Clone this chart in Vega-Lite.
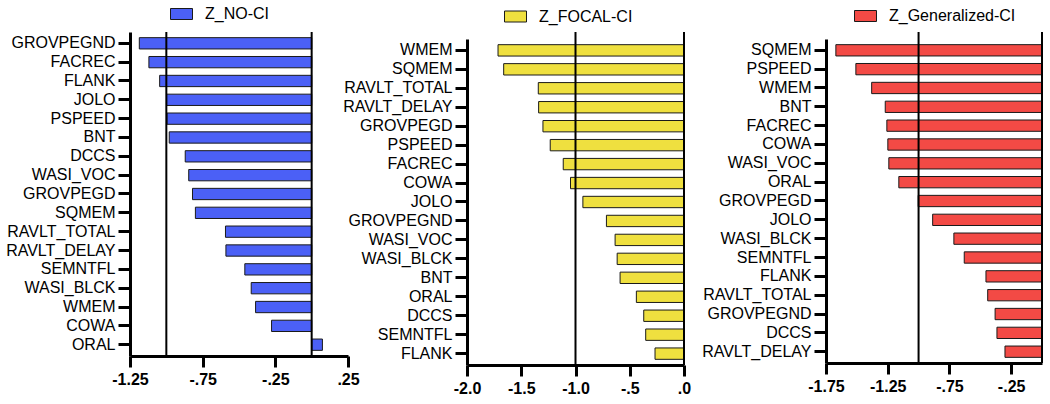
{
  "$schema": "https://vega.github.io/schema/vega-lite/v6.json",
  "padding": {"top": 2, "left": 0, "right": 0, "bottom": 0},
  "background": "white",
  "datasets": {
    "lines": [{"x": -1}, {"x": 0}],
    "noci": [
      {"test": "GROVPEGND", "z": -1.186, "series": "Z_NO-CI"},
      {"test": "FACREC", "z": -1.12, "series": "Z_NO-CI"},
      {"test": "FLANK", "z": -1.046, "series": "Z_NO-CI"},
      {"test": "JOLO", "z": -0.998, "series": "Z_NO-CI"},
      {"test": "PSPEED", "z": -0.995, "series": "Z_NO-CI"},
      {"test": "BNT", "z": -0.98, "series": "Z_NO-CI"},
      {"test": "DCCS", "z": -0.87, "series": "Z_NO-CI"},
      {"test": "WASI_VOC", "z": -0.846, "series": "Z_NO-CI"},
      {"test": "GROVPEGD", "z": -0.82, "series": "Z_NO-CI"},
      {"test": "SQMEM", "z": -0.8, "series": "Z_NO-CI"},
      {"test": "RAVLT_TOTAL", "z": -0.593, "series": "Z_NO-CI"},
      {"test": "RAVLT_DELAY", "z": -0.59, "series": "Z_NO-CI"},
      {"test": "SEMNTFL", "z": -0.46, "series": "Z_NO-CI"},
      {"test": "WASI_BLCK", "z": -0.416, "series": "Z_NO-CI"},
      {"test": "WMEM", "z": -0.386, "series": "Z_NO-CI"},
      {"test": "COWA", "z": -0.276, "series": "Z_NO-CI"},
      {"test": "ORAL", "z": 0.074, "series": "Z_NO-CI"}
    ],
    "focal": [
      {"test": "WMEM", "z": -1.714, "series": "Z_FOCAL-CI"},
      {"test": "SQMEM", "z": -1.662, "series": "Z_FOCAL-CI"},
      {"test": "RAVLT_TOTAL", "z": -1.343, "series": "Z_FOCAL-CI"},
      {"test": "RAVLT_DELAY", "z": -1.34, "series": "Z_FOCAL-CI"},
      {"test": "GROVPEGD", "z": -1.3, "series": "Z_FOCAL-CI"},
      {"test": "PSPEED", "z": -1.233, "series": "Z_FOCAL-CI"},
      {"test": "FACREC", "z": -1.113, "series": "Z_FOCAL-CI"},
      {"test": "COWA", "z": -1.046, "series": "Z_FOCAL-CI"},
      {"test": "JOLO", "z": -0.932, "series": "Z_FOCAL-CI"},
      {"test": "GROVPEGND", "z": -0.715, "series": "Z_FOCAL-CI"},
      {"test": "WASI_VOC", "z": -0.635, "series": "Z_FOCAL-CI"},
      {"test": "WASI_BLCK", "z": -0.616, "series": "Z_FOCAL-CI"},
      {"test": "BNT", "z": -0.589, "series": "Z_FOCAL-CI"},
      {"test": "ORAL", "z": -0.439, "series": "Z_FOCAL-CI"},
      {"test": "DCCS", "z": -0.371, "series": "Z_FOCAL-CI"},
      {"test": "SEMNTFL", "z": -0.353, "series": "Z_FOCAL-CI"},
      {"test": "FLANK", "z": -0.267, "series": "Z_FOCAL-CI"}
    ],
    "gen": [
      {"test": "SQMEM", "z": -1.67, "series": "Z_Generalized-CI"},
      {"test": "PSPEED", "z": -1.508, "series": "Z_Generalized-CI"},
      {"test": "WMEM", "z": -1.38, "series": "Z_Generalized-CI"},
      {"test": "BNT", "z": -1.27, "series": "Z_Generalized-CI"},
      {"test": "FACREC", "z": -1.257, "series": "Z_Generalized-CI"},
      {"test": "COWA", "z": -1.249, "series": "Z_Generalized-CI"},
      {"test": "WASI_VOC", "z": -1.241, "series": "Z_Generalized-CI"},
      {"test": "ORAL", "z": -1.16, "series": "Z_Generalized-CI"},
      {"test": "GROVPEGD", "z": -1.003, "series": "Z_Generalized-CI"},
      {"test": "JOLO", "z": -0.886, "series": "Z_Generalized-CI"},
      {"test": "WASI_BLCK", "z": -0.714, "series": "Z_Generalized-CI"},
      {"test": "SEMNTFL", "z": -0.63, "series": "Z_Generalized-CI"},
      {"test": "FLANK", "z": -0.454, "series": "Z_Generalized-CI"},
      {"test": "RAVLT_TOTAL", "z": -0.44, "series": "Z_Generalized-CI"},
      {"test": "GROVPEGND", "z": -0.38, "series": "Z_Generalized-CI"},
      {"test": "DCCS", "z": -0.365, "series": "Z_Generalized-CI"},
      {"test": "RAVLT_DELAY", "z": -0.3, "series": "Z_Generalized-CI"}
    ]
  },
  "spacing": 119,
  "bounds": "flush",
  "resolve": {
    "scale": {"x": "independent", "y": "independent", "color": "independent"},
    "legend": {"color": "independent"}
  },
  "hconcat": [
    {
      "width": 218,
      "height": 324,
      "layer": [
        {
          "data": {"name": "noci"},
          "mark": {"type": "bar", "stroke": "#1a1a1a", "strokeWidth": 1},
          "encoding": {
            "y": {
              "field": "test", "type": "nominal", "sort": null,
              "scale": {"paddingInner": 0.4, "paddingOuter": 0.3},
              "axis": {"minExtent": 130}
            },
            "x": {
              "field": "z", "type": "quantitative",
              "scale": {"domain": [-1.25, 0.25], "nice": false, "zero": false},
              "axis": {
                "values": [-1.25, -1, -0.75, -0.5, -0.25, 0, 0.25],
                "labelExpr": "(datum.value == -1 || datum.value == -0.5 || datum.value == 0) ? '' : (datum.value < 0 ? '-' : '') + replace(format(abs(datum.value), '.2f'), '0.', '.')"
              }
            },
            "color": {
              "field": "series", "type": "nominal",
              "scale": {"range": ["#4B60F6"]},
              "legend": {"legendX": 40, "legendY": -29.5}
            }
          }
        },
        {
          "data": {"name": "lines"},
          "mark": {"type": "rule", "color": "black", "strokeWidth": 2},
          "encoding": {"x": {"field": "x", "type": "quantitative"}}
        }
      ]
    },
    {
      "width": 240,
      "height": 333,
      "layer": [
        {
          "data": {"name": "focal"},
          "mark": {"type": "bar", "stroke": "#1a1a1a", "strokeWidth": 1},
          "encoding": {
            "y": {
              "field": "test", "type": "nominal", "sort": null,
              "scale": {"paddingInner": 0.4, "paddingOuter": 0.3, "rangeMin": 7}
            },
            "x": {
              "field": "z", "type": "quantitative",
              "scale": {"domain": [-2, 0], "nice": false, "zero": false, "rangeMax": 217},
              "axis": {
                "values": [-2, -1.5, -1, -0.5, 0],
                "labelExpr": "(datum.value < 0 ? '-' : '') + replace(format(abs(datum.value), '.1f'), '0.', '.')"
              }
            },
            "color": {
              "field": "series", "type": "nominal",
              "scale": {"range": ["#EFE03F"]},
              "legend": {"legendX": 37, "legendY": -27}
            }
          }
        },
        {
          "data": {"name": "lines"},
          "mark": {"type": "rule", "color": "black", "strokeWidth": 2},
          "encoding": {"x": {"field": "x", "type": "quantitative"}}
        }
      ]
    },
    {
      "width": 216,
      "height": 331,
      "layer": [
        {
          "data": {"name": "gen"},
          "mark": {"type": "bar", "stroke": "#1a1a1a", "strokeWidth": 1},
          "encoding": {
            "y": {
              "field": "test", "type": "nominal", "sort": null,
              "scale": {"paddingInner": 0.4, "paddingOuter": 0.3, "rangeMin": 7}
            },
            "x": {
              "field": "z", "type": "quantitative",
              "scale": {"domain": [-1.75, 0], "nice": false, "zero": false},
              "axis": {
                "values": [-1.75, -1.25, -0.75, -0.25],
                "labelExpr": "(datum.value < 0 ? '-' : '') + replace(format(abs(datum.value), '.2f'), '0.', '.')"
              }
            },
            "color": {
              "field": "series", "type": "nominal",
              "scale": {"range": ["#F34A45"]},
              "legend": {"legendX": 28, "legendY": -27.5}
            }
          }
        },
        {
          "data": {"name": "lines"},
          "mark": {"type": "rule", "color": "black", "strokeWidth": 2},
          "encoding": {"x": {"field": "x", "type": "quantitative"}}
        }
      ]
    }
  ],
  "config": {
    "view": {"stroke": null},
    "font": "Liberation Sans",
    "axis": {
      "domainColor": "black", "domainWidth": 3,
      "tickColor": "black", "tickWidth": 3,
      "grid": false, "labelColor": "black", "labelFont": "Liberation Sans",
      "title": null, "labelOverlap": false
    },
    "axisY": {"tickSize": 12, "labelPadding": 3, "labelFontSize": 16},
    "axisX": {"tickSize": 11, "labelPadding": 4, "labelFontSize": 16, "labelFontWeight": "bold", "labelFlush": false},
    "legend": {
      "orient": "none", "title": null, "padding": 0,
      "symbolType": "M-1,-0.5H1V0.5H-1Z", "symbolSize": 484,
      "symbolStrokeColor": "#1a1a1a", "symbolStrokeWidth": 1, "symbolOpacity": 1,
      "labelFontSize": 16, "labelFont": "Liberation Sans", "labelColor": "black", "labelOffset": 12
    }
  }
}
